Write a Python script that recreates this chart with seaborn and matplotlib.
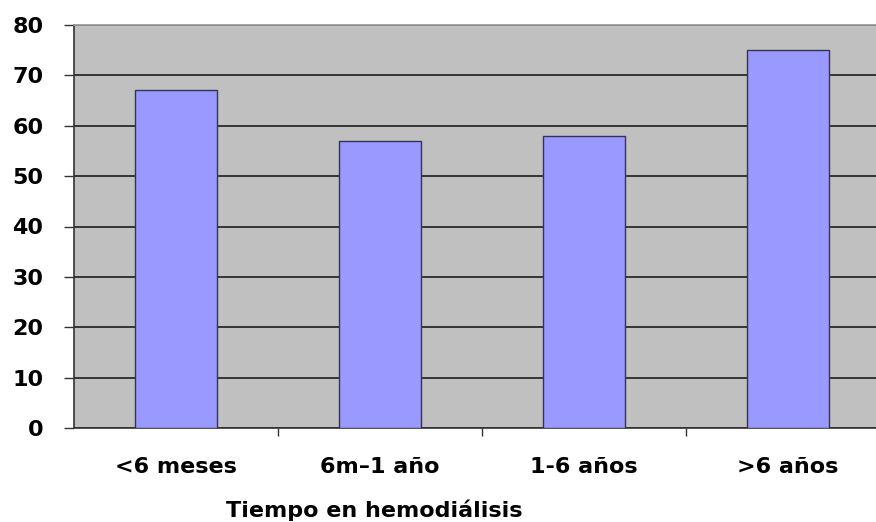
import matplotlib
matplotlib.use("Agg")
import matplotlib.pyplot as plt
import seaborn as sns
import pandas as pd

# datos
categorias = ["<6 meses", "6m\u20131 año", "1-6 años", ">6 años"]
valores = [67, 57, 58, 75]
yticks = [0, 10, 20, 30, 40, 50, 60, 70, 80]

df = pd.DataFrame({"tiempo": categorias, "valor": valores})

sns.set_theme(style="white")
plt.rcParams["font.family"] = ["DejaVu Sans"]
plt.rcParams["text.color"] = "black"

fig = plt.figure(figsize=(8.76, 5.22), dpi=100)
# el area del grafico se sale un poco por la derecha, como en el original
ax = fig.add_axes([74 / 876, 1 - 428 / 522, 816 / 876, 403 / 522])
ax.set_facecolor("#C0C0C0")

sns.barplot(data=df, x="tiempo", y="valor", color="#9999FF", width=0.4,
            edgecolor="#333355", linewidth=1.0, saturation=1, ax=ax, zorder=3)

ax.set_ylim(0, 80)
ax.set_xlim(-0.5, 3.5)
ax.set_yticks(yticks)
ax.yaxis.grid(True, color="#2a2a2a", linewidth=1.3, zorder=1)
ax.set_axisbelow(True)

ax.tick_params(axis="y", direction="out", length=7, width=1, color="#333333",
               left=True, pad=15, labelsize=16, labelcolor="black")
ax.tick_params(axis="x", which="major", length=0, pad=21, labelsize=16,
               labelcolor="black")
ax.set_xticks([0.5, 1.5, 2.5], minor=True)
ax.tick_params(axis="x", which="minor", direction="out", length=6, width=1,
               color="#333333", bottom=True)
for lbl in ax.get_yticklabels() + ax.get_xticklabels():
    lbl.set_fontweight("bold")

ax.set_ylabel("")
ax.set_xlabel("Tiempo en hemodiálisis", fontsize=16, fontweight="bold",
              color="black")
ax.xaxis.set_label_coords((374 - 74) / 816, -0.178)

for s in ["left", "bottom"]:
    ax.spines[s].set_color("#333333")
    ax.spines[s].set_linewidth(1.2)
ax.spines["top"].set_color("#999999")
ax.spines["right"].set_visible(False)

fig.savefig("out.png", dpi=100)
